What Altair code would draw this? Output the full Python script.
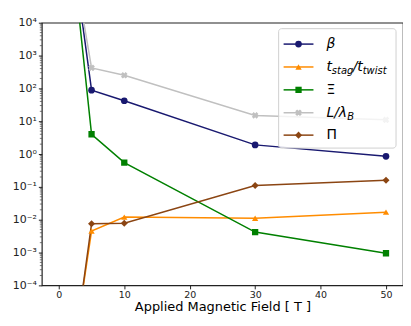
import altair as alt
import pandas as pd

# ---- data ----
field = [0, 5, 10, 30, 50]
series_names = ["beta", "tstag", "Xi", "L", "Pi"]
beta = [2e9, 88, 42, 1.9, 0.85]
tstag = [1e-9, 0.0045, 0.012, 0.011, 0.017]
xi = [1e10, 4.0, 0.55, 0.0042, 0.00095]
l_lb = [3e8, 420, 250, 15, 11]
pi_ = [4e-10, 0.0075, 0.0078, 0.11, 0.16]
colors = ["#191970", "#FF8C00", "#008000", "#C0C0C0", "#8B4513"]
shapes = ["circle", "triangle-up", "square", "cross", "diamond"]
sizes = [45, 40, 40, 45, 50]
x_ticks = [0, 10, 20, 30, 40, 50]
y_ticks = [1e-4, 1e-3, 1e-2, 1e-1, 1e0, 1e1, 1e2, 1e3, 1e4]

rows = []
for name, vals in zip(series_names, [beta, tstag, xi, l_lb, pi_]):
    for f, v in zip(field, vals):
        rows.append({"B": f, "v": v, "s": name})
df = pd.DataFrame(rows)

W, H = 363, 264
xs = alt.Scale(domain=[-2.6, 52.6], nice=False, zero=False)
ys = alt.Scale(type="log", domain=[1e-4, 1e4], nice=False)
cs = alt.Scale(domain=series_names, range=colors)

sup = {"-4": "⁻⁴", "-3": "⁻³", "-2": "⁻²", "-1": "⁻¹", "0": "⁰",
       "1": "¹", "2": "²", "3": "³", "4": "⁴"}
expr = "''"
for k, s in sup.items():
    expr = f"(round(log(datum.value)/LN10)=={k}) ? '10{s}' : ({expr})"

x_enc = alt.X("B:Q", scale=xs, axis=alt.Axis(
    values=x_ticks, title="Applied Magnetic Field [ T ]", grid=False,
    labelFontSize=9.5, titleFontSize=13, titleFontWeight="normal",
    titleColor="black", labelColor="#222", tickColor="#222", tickSize=3.5,
    domain=False, labelPadding=1, titleY=25, titleBaseline="alphabetic",
    labelFont="DejaVu Sans", titleFont="DejaVu Sans"))
y_enc = alt.Y("v:Q", scale=ys, axis=alt.Axis(
    values=y_ticks, labelExpr=expr, title=None, grid=False,
    labelFontSize=11, labelColor="#222", tickColor="#222", tickSize=3.5,
    domain=False, labelPadding=2, labelFont="DejaVu Sans"))

lines = alt.Chart(df).mark_line(clip=True, strokeWidth=1.5).encode(
    x=x_enc, y=y_enc,
    color=alt.Color("s:N", scale=cs, legend=None),
    detail="s:N")

layers = [lines]
for name, c, sh, sz in zip(series_names, colors, shapes, sizes):
    sub = df[df.s == name]
    layers.append(alt.Chart(sub).mark_point(
        filled=True, shape=sh, size=sz, color=c, opacity=1, clip=True,
        angle=45 if sh == "cross" else 0).encode(
        x=alt.X("B:Q", scale=xs), y=alt.Y("v:Q", scale=ys)))

# minor ticks on the log axis
minor = [m * 10 ** e for e in range(-4, 4) for m in range(2, 10)]
layers.append(alt.Chart(pd.DataFrame({"v": minor})).mark_rule(
    color="#222", strokeWidth=0.6).encode(
    y=alt.Y("v:Q", scale=ys), x=alt.value(0), x2=alt.value(-2)))

one = pd.DataFrame({"a": [0]})
# legend box
layers.append(alt.Chart(one).mark_rect(
    fill="white", fillOpacity=0.8, stroke="#d0d0d0", strokeWidth=1,
    cornerRadius=3).encode(x=alt.value(238), x2=alt.value(356),
                           y=alt.value(6), y2=alt.value(126)))
row_y = [21.5, 44.5, 67.5, 90.5, 113]
for c, sh, sz, yy in zip(colors, shapes, sizes, row_y):
    layers.append(alt.Chart(one).mark_rule(color=c, strokeWidth=1.5).encode(
        x=alt.value(243), x2=alt.value(273), y=alt.value(yy)))
    layers.append(alt.Chart(one).mark_point(
        filled=True, shape=sh, size=sz, color=c, opacity=1,
        angle=45 if sh == "cross" else 0).encode(
        x=alt.value(258), y=alt.value(yy)))


def txt(t, x, y, size=14, italic=True):
    return alt.Chart(one).mark_text(
        text=t, font="DejaVu Sans", fontSize=size, align="left",
        baseline="middle", color="black",
        fontStyle="italic" if italic else "normal").encode(
        x=alt.value(x), y=alt.value(y))


ty = row_y[1]
ly = row_y[3]
layers += [
    txt("β", 286, row_y[0]),
    txt("t", 286, ty), txt("stag", 291.5, ty + 4.5, size=10),
    txt("/", 312.5, ty), txt("t", 317, ty), txt("twist", 322.5, ty + 4.5, size=10),
    txt("Ξ", 286, row_y[2], italic=False),
    txt("L/λ", 286, ly), txt("B", 307, ly + 4.5, size=10),
    txt("Π", 286, row_y[4], italic=False),
]

chart = alt.layer(*layers).properties(
    width=W, height=H,
    autosize=alt.AutoSizeParams(type="none"),
    padding={"left": 34, "top": 14, "right": 0, "bottom": 28},
).configure_view(stroke="#222", strokeWidth=1.2)

chart.save("out.html", embed_options={"renderer": "svg", "actions": False})
